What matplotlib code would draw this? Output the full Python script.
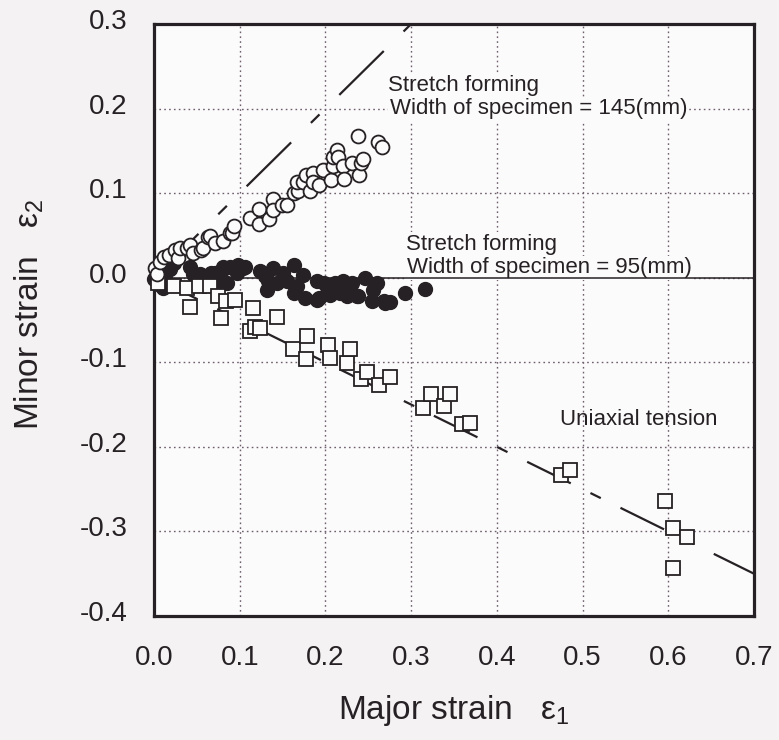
import numpy as np
import matplotlib.pyplot as plt
from matplotlib import transforms

plt.rcParams['font.family'] = ['Liberation Sans', 'DejaVu Sans']
plt.rcParams['lines.scale_dashes'] = False

# stretch forming, width 145 mm (open circles)
x145 = [0.001, 0.003, 0.007, 0.012, 0.018, 0.024, 0.028, 0.030, 0.038, 0.042,
        0.046, 0.055, 0.057, 0.063, 0.065, 0.071, 0.081, 0.089, 0.091, 0.093,
        0.112, 0.122, 0.122, 0.134, 0.139, 0.139, 0.149, 0.155, 0.163, 0.168,
        0.167, 0.174, 0.177, 0.182, 0.186, 0.186, 0.192, 0.197, 0.207, 0.209,
        0.209, 0.214, 0.215, 0.220, 0.222, 0.231, 0.238, 0.239, 0.241, 0.244,
        0.261, 0.266]
y145 = [0.012, 0.004, 0.019, 0.025, 0.027, 0.033, 0.023, 0.035, 0.035, 0.039,
        0.029, 0.033, 0.035, 0.048, 0.049, 0.041, 0.043, 0.053, 0.053, 0.061,
        0.071, 0.081, 0.064, 0.069, 0.093, 0.080, 0.086, 0.086, 0.100, 0.102,
        0.113, 0.113, 0.122, 0.103, 0.124, 0.113, 0.110, 0.127, 0.116, 0.132,
        0.143, 0.151, 0.143, 0.132, 0.117, 0.136, 0.167, 0.122, 0.136, 0.140,
        0.160, 0.154]

# stretch forming, width 95 mm (filled circles)
x95 = [0.000, 0.005, 0.011, 0.013, 0.019, 0.023, 0.042, 0.046, 0.054, 0.067,
       0.071, 0.077, 0.077, 0.081, 0.083, 0.085, 0.089, 0.097, 0.097, 0.098,
       0.104, 0.106, 0.124, 0.130, 0.132, 0.133, 0.139, 0.143, 0.151, 0.155,
       0.163, 0.163, 0.167, 0.174, 0.176, 0.190, 0.190, 0.192, 0.198, 0.202,
       0.205, 0.209, 0.211, 0.217, 0.221, 0.225, 0.229, 0.231, 0.237, 0.238,
       0.246, 0.254, 0.256, 0.260, 0.268, 0.270, 0.275, 0.293, 0.316]
y95 = [-0.002, -0.008, -0.012, 0.002, 0.010, 0.017, 0.013, 0.004, 0.004, 0.006,
       0.006, 0.006, -0.004, 0.013, 0.011, -0.006, 0.013, 0.013, 0.006, 0.015,
       0.011, 0.013, 0.008, 0.002, -0.014, -0.004, 0.011, -0.006, 0.006, -0.004,
       0.015, -0.018, -0.010, 0.003, -0.024, -0.004, -0.026, -0.024, -0.006, -0.018,
       -0.020, -0.014, -0.006, -0.018, -0.004, -0.022, -0.008, -0.006, -0.022, -0.022,
       0.000, -0.028, -0.014, -0.006, -0.028, -0.030, -0.029, -0.018, -0.013]

# uniaxial tension (open squares)
xU = [0.005, 0.023, 0.038, 0.042, 0.053, 0.065, 0.075, 0.078, 0.084, 0.095,
      0.112, 0.116, 0.118, 0.124, 0.143, 0.162, 0.178, 0.177, 0.203, 0.205,
      0.225, 0.229, 0.242, 0.249, 0.263, 0.275, 0.314, 0.323, 0.338, 0.345,
      0.359, 0.369, 0.475, 0.485, 0.596, 0.605, 0.622, 0.606]
yU = [-0.006, -0.010, -0.012, -0.035, -0.010, -0.010, -0.022, -0.048, -0.028, -0.026,
      -0.063, -0.036, -0.058, -0.060, -0.047, -0.084, -0.069, -0.096, -0.080, -0.095,
      -0.101, -0.084, -0.120, -0.112, -0.127, -0.117, -0.154, -0.138, -0.152, -0.137,
      -0.173, -0.172, -0.233, -0.227, -0.264, -0.296, -0.307, -0.343]

# reference lines (end points)
line145_x = [0.0, 0.3]
line145_y = [0.0, 0.3]
lineU_x = [0.0, 0.7]
lineU_y = [0.0, -0.35]

xticks = [0.0, 0.1, 0.2, 0.3, 0.4, 0.5, 0.6, 0.7]
xtick_labels = ['0.0', '0.1', '0.2', '0.3', '0.4', '0.5', '0.6', '0.7']
yticks = [-0.4, -0.3, -0.2, -0.1, 0.0, 0.1, 0.2, 0.3]
ytick_labels = ['-0.4', '-0.3', '-0.2', '-0.1', '0.0', '0.1', '0.2', '0.3']

ink = '#262124'
paper = '#fcfbfb'

fig = plt.figure(figsize=(7.79, 7.40), dpi=100, facecolor='#f4f2f2')
ax = fig.add_axes([154/779, 124/740, 600/779, 592/740])
ax.set_facecolor(paper)

ax.set_xlim(0, 0.7)
ax.set_ylim(-0.4, 0.3)
ax.set_xticks(xticks)
ax.set_xticklabels(xtick_labels)
ax.set_yticks(yticks)
ax.set_yticklabels(ytick_labels)
ax.tick_params(axis='both', length=0, labelsize=20, colors=ink)
ax.tick_params(axis='x', pad=21)
ax.tick_params(axis='y', pad=19)
# y labels sit a little above their grid lines in the original
shift = transforms.ScaledTranslation(0, 0.05, fig.dpi_scale_trans)
for lab in ax.get_yticklabels():
    lab.set_transform(lab.get_transform() + shift)

ax.set_axisbelow(True)
ax.grid(True, linestyle=(0, (1.2, 2.3)), color='#6e5f6e', linewidth=1.0)
for s in ax.spines.values():
    s.set_linewidth(2.3)
    s.set_color(ink)

ax.axhline(0, color=ink, linewidth=1.1, zorder=2)
ax.plot(line145_x, line145_y, color=ink, linewidth=1.6,
        dashes=(45, 20, 8.7, 20), zorder=2)
ax.plot(lineU_x, lineU_y, color=ink, linewidth=1.6,
        dashes=(35, 15.8, 8.3, 15.8), zorder=2)

ax.plot(x95, y95, 'o', ms=10, mfc=ink, mec=ink, mew=1.0, zorder=3, clip_on=False)
ax.plot(xU, yU, 's', ms=9.5, mfc=paper, mec=ink, mew=1.3, zorder=4, clip_on=False)
ax.plot(x145, y145, 'o', ms=10, mfc=paper, mec=ink, mew=1.3, zorder=5, clip_on=False)

box = dict(facecolor=paper, edgecolor='none', pad=1.0)
ax.text(0.273, 0.221, 'Stretch forming', fontsize=16, color=ink,
        va='baseline', ha='left', bbox=box, zorder=1.5)
ax.text(0.275, 0.193, 'Width of specimen = 145(mm)', fontsize=16, color=ink,
        va='baseline', ha='left', bbox=box, zorder=1.5)
ax.text(0.294, 0.033, 'Stretch forming', fontsize=16, color=ink,
        va='baseline', ha='left', bbox=box, zorder=1.5)
ax.text(0.295, 0.005, 'Width of specimen = 95(mm)', fontsize=16, color=ink,
        va='baseline', ha='left', bbox=box, zorder=1.5)
ax.text(0.474, -0.168, 'Uniaxial tension', fontsize=16, color=ink,
        va='center', ha='left', zorder=1.5)

ax.set_xlabel('Major strain   $\\mathregular{ε_1}$', fontsize=24, color=ink)
ax.set_ylabel('Minor strain   $\\mathregular{ε_2}$', fontsize=24, color=ink)
ax.xaxis.set_label_coords(0.5, -0.13)
ax.yaxis.set_label_coords(-0.18, 0.51)

fig.savefig('out.png', dpi=100, facecolor=fig.get_facecolor())
